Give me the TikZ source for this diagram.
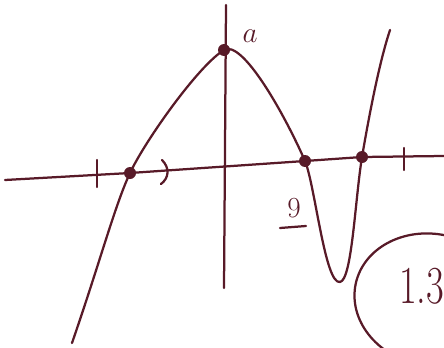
\documentclass[tikz,border=0pt]{standalone}
\usetikzlibrary{calc}

\definecolor{ink}{RGB}{88,26,40}

\begin{document}
\begin{tikzpicture}[x=0.025cm, y=-0.025cm, line cap=round, line join=round]
  \useasboundingbox (0,0) rectangle (444,347);
  \clip (0,0) rectangle (444,347);
  \tikzset{pen/.style={draw=ink, line width=1.6pt},
           hand/.style={text=ink, inner sep=0pt}}

  \coordinate (XL) at (5,180);
  \coordinate (XR) at (444,156);
  \coordinate (YT) at (226,5);
  \coordinate (YB) at (224,288);

  \coordinate (R1) at (130,173);
  \coordinate (A) at (224,50);
  \coordinate (R2) at (305,161);
  \coordinate (M) at (340,282);
  \coordinate (R3) at (362,157);

  % axes
  \draw[pen] (XL) -- (R1) -- (R2) -- (R3) -- (XR);
  \draw[pen] (YT) -- (YB);

  % ticks and bracket
  \draw[pen] (97,160) -- (97,187);
  \draw[pen] (404,148) -- (404,170);
  \draw[pen] (162,160) .. controls (170,168) and (169,178) .. (161,184);

  % the curve
  \draw[pen] (72,343) .. controls (100,262) and (115,205) .. (R1)
    .. controls (145,141) and (198,66) .. (A)
    .. controls (242,39) and (284,113) .. (R2)
    .. controls (315,185) and (325,285) .. (M)
    .. controls (352,280) and (355,200) .. (R3)
    .. controls (370,110) and (380,60) .. (390,30);

  % dots
  \foreach \p in {R1,A,R2,R3}
    \fill[ink] (\p) circle (6);

  % labels
  \node[hand, font=\fontsize{20}{20}\selectfont] (la) at (250,36) {$a$};
  \node[hand, font=\fontsize{22}{22}\selectfont] (lb) at (294,208) {$9$};
  \draw[pen] (280,228) -- (306,226);

  % circled note
  \draw[pen, rotate around={-12:(432,300)}] (432,300) ellipse (78 and 66);
  \node[hand, font=\fontsize{38}{38}\selectfont, xscale=0.72, anchor=west] (note) at (399,286) {1.3};
\end{tikzpicture}
\end{document}
